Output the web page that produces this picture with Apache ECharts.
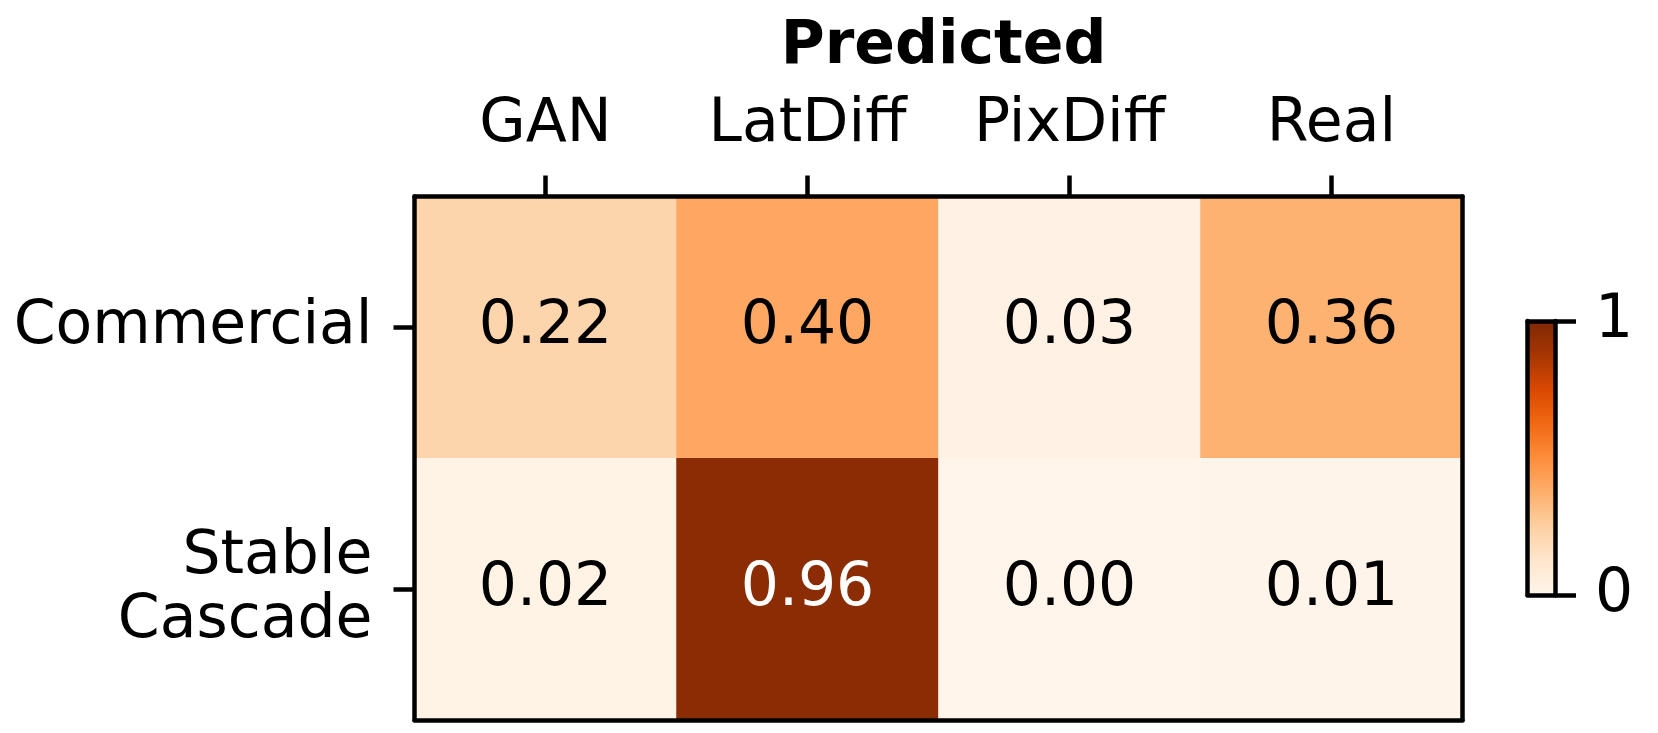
<!DOCTYPE html>
<html><head><meta charset="utf-8">
<script src="https://cdn.jsdelivr.net/npm/echarts@6/dist/echarts.min.js"></script>
<style>html,body{margin:0;padding:0;background:#fff}#c{width:1658px;height:733px}</style>
</head><body><div id="c"></div>
<script>
const predicted = ['GAN', 'LatDiff', 'PixDiff', 'Real'];
const actual = ['Commercial', 'Stable\nCascade'];
const commercialRow = [0.22, 0.40, 0.03, 0.36];
const stableCascadeRow = [0.02, 0.96, 0.00, 0.01];
const colorbarTicks = [0, 1];
const orangesCmap = ['#fff5eb','#fee6ce','#fdd0a2','#fdae6b','#fd8d3c','#f16913','#d94801','#a63603','#7f2704'];

const rows = [commercialRow, stableCascadeRow];
const data = [];
rows.forEach((row, yi) => row.forEach((v, xi) => {
  data.push({ value: [xi, yi, v], label: { color: v > 0.5 ? '#fff' : '#000' } });
}));

const FONT = 'DejaVu Sans';
const LW = 4.5;
const chart = echarts.init(document.getElementById('c'), null, { renderer: 'canvas' });
const gridMain = { left: 414.5, top: 196.5, width: 1048, height: 523.5 };
const gridBar = { left: 1527.5, top: 321, width: 27.5, height: 274 };
chart.setOption({
  animation: false,
  backgroundColor: '#fff',
  title: {
    text: 'Predicted', left: 938.5, top: 12, textAlign: 'center',
    textStyle: { fontFamily: FONT, fontSize: 60, fontWeight: 'bold', color: '#000' }
  },
  grid: [gridMain, gridBar],
  visualMap: {
    show: false, seriesIndex: 0, min: 0, max: 1, calculable: false,
    inRange: { color: orangesCmap }
  },
  xAxis: [
    { gridIndex: 0, type: 'category', data: predicted, position: 'top', z: 10,
      axisLine: { show: true, lineStyle: { color: '#000', width: LW } },
      axisTick: { show: true, alignWithLabel: true, length: 21, lineStyle: { color: '#000', width: LW } },
      axisLabel: { margin: 41, fontFamily: FONT, fontSize: 60, color: '#000' },
      splitLine: { show: false } },
    { gridIndex: 0, type: 'category', data: predicted, position: 'bottom', z: 10,
      axisLine: { show: true, onZero: false, lineStyle: { color: '#000', width: LW } },
      axisTick: { show: false }, axisLabel: { show: false }, splitLine: { show: false } },
    { gridIndex: 1, type: 'category', data: ['cb'], position: 'bottom', z: 10,
      axisLine: { show: true, onZero: false, lineStyle: { color: '#000', width: LW } },
      axisTick: { show: false }, axisLabel: { show: false } },
    { gridIndex: 1, type: 'category', data: ['cb'], position: 'top', z: 10,
      axisLine: { show: true, onZero: false, lineStyle: { color: '#000', width: LW } },
      axisTick: { show: false }, axisLabel: { show: false } }
  ],
  yAxis: [
    { gridIndex: 0, type: 'category', data: actual, inverse: true, position: 'left', z: 10,
      axisLine: { show: true, lineStyle: { color: '#000', width: LW } },
      axisTick: { show: true, alignWithLabel: true, length: 21, lineStyle: { color: '#000', width: LW } },
      axisLabel: { margin: 42, fontFamily: FONT, fontSize: 60, color: '#000', align: 'right', lineHeight: 64, padding: [8, 0, 0, 0] },
      splitLine: { show: false } },
    { gridIndex: 0, type: 'category', data: actual, inverse: true, position: 'right', z: 10,
      axisLine: { show: true, onZero: false, lineStyle: { color: '#000', width: LW } },
      axisTick: { show: false }, axisLabel: { show: false }, splitLine: { show: false } },
    { gridIndex: 1, type: 'value', min: colorbarTicks[0], max: colorbarTicks[colorbarTicks.length - 1], interval: 1, position: 'right', z: 10,
      axisLine: { show: true, onZero: false, lineStyle: { color: '#000', width: LW } },
      axisTick: { show: true, length: 21, lineStyle: { color: '#000', width: LW } },
      axisLabel: { margin: 40, fontFamily: FONT, fontSize: 60, color: '#000', padding: [14, 0, 0, 0] },
      splitLine: { show: false } },
    { gridIndex: 1, type: 'value', min: 0, max: 1, position: 'left', z: 10,
      axisLine: { show: true, onZero: false, lineStyle: { color: '#000', width: LW } },
      axisTick: { show: false }, axisLabel: { show: false }, splitLine: { show: false } }
  ],
  series: [
    { type: 'heatmap', xAxisIndex: 0, yAxisIndex: 0, data: data,
      label: { show: true, fontFamily: FONT, fontSize: 60, formatter: p => p.value[2].toFixed(2) },
      itemStyle: { borderWidth: 0 }, emphasis: { disabled: true } },
    { type: 'bar', xAxisIndex: 2, yAxisIndex: 2, data: [colorbarTicks[colorbarTicks.length - 1]], barWidth: '100%', silent: true,
      itemStyle: { color: new echarts.graphic.LinearGradient(0, 1, 0, 0,
        orangesCmap.map((c, i) => ({ offset: i / (orangesCmap.length - 1), color: c }))) } }
  ]
});
</script></body></html>
